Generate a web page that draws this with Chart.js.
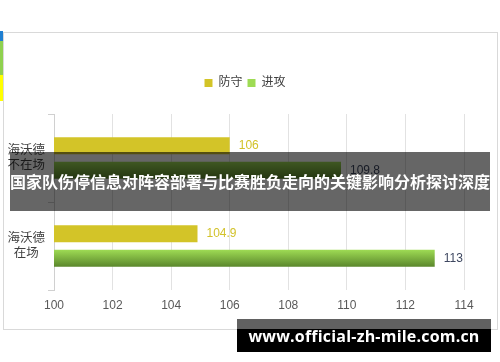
<!DOCTYPE html>
<html lang="zh">
<head>
    <meta charset="UTF-8">
    <title>海沃德在场与不在场 - 防守/进攻</title>
    <script src="https://cdn.jsdelivr.net/npm/chart.js"></script>
    <style>
        body { margin: 0; width: 500px; height: 362px; background: #fff; position: relative; overflow: hidden; }
        #card { position: absolute; left: 3px; top: 32px; width: 493px; height: 296px; border: 1px solid #d9d9d9; background: #fff; }
        #strip { position: absolute; left: 0; top: 31px; width: 3px; height: 70px;
                 background: linear-gradient(#1e7fd2 0 10px, #8fd14f 10px 44px, #ffff00 44px); }
        #chart { position: absolute; left: 0; top: 0; }
        #banner { position: absolute; left: 10px; top: 152px; width: 480px; height: 59px; background: rgba(0, 0, 0, 0.6);
                  color: #fff; font: bold 16px "Noto Sans CJK SC", sans-serif; line-height: 59px; text-align: center; white-space: nowrap; }
        #mark { position: absolute; left: 237px; top: 319px; width: 254px; height: 33px;
                background: linear-gradient(rgba(0, 0, 0, 0.62) 0 10px, #000 10px);
                color: #fff; font: bold 16px "Open Sans", sans-serif; letter-spacing: 0.2px; line-height: 35px; text-align: center; white-space: nowrap; }
    </style>
</head>
<body>
    <div id="strip"></div>
    <div id="card"></div>
    <canvas id="chart" width="500" height="362"></canvas>
    <div id="banner">国家队伤停信息对阵容部署与比赛胜负走向的关键影响分析探讨深度</div>
    <div id="mark">www.official-zh-mile.com.cn</div>
    <script>
        // categories and series
        var teamLabels = [['海沃德', '不在场'], ['海沃德', '在场']];
        var defenceValues = [106, 104.9];
        var attackValues = [109.8, 113];
        var seriesNames = ['防守', '进攻'];
        var labelColours = ['#d2c22a', '#3e4760'];

        var catPct = 0.56;
        var barPct = 0.69;
        var font = '"Liberation Sans", "Noto Sans CJK SC", sans-serif';

        // green bars have a top-to-bottom gradient like the original
        function attackFill(ctx) {
            var chart = ctx.chart;
            var area = chart.chartArea;
            if (ctx.type !== 'data' || !area || !chart.scales.y) return '#79b13d';
            var band = (area.bottom - area.top) / teamLabels.length;
            var slot = band * catPct / 2;
            var mid = chart.scales.y.getPixelForValue(ctx.dataIndex) + slot / 2;
            var half = slot * barPct / 2;
            var g = chart.ctx.createLinearGradient(0, mid - half, 0, mid + half);
            g.addColorStop(0, '#9edb54');
            g.addColorStop(1, '#5a862b');
            return g;
        }

        // value text at the end of each bar
        var valueLabels = {
            id: 'valueLabels',
            afterDatasetsDraw: function(chart) {
                var c = chart.ctx;
                c.save();
                c.font = '12px ' + font;
                c.textBaseline = 'middle';
                chart.data.datasets.forEach(function(ds, i) {
                    c.fillStyle = labelColours[i];
                    chart.getDatasetMeta(i).data.forEach(function(bar, j) {
                        c.fillText(String(ds.data[j]), bar.x + 9, bar.y);
                    });
                });
                c.restore();
            }
        };

        var ctx = document.getElementById('chart').getContext('2d');
        var chart = new Chart(ctx, {
            type: 'bar',
            data: {
                labels: teamLabels,
                datasets: [{
                    label: seriesNames[0],
                    data: defenceValues,
                    backgroundColor: '#d3c428',
                    borderWidth: 0,
                    barPercentage: barPct,
                    categoryPercentage: catPct
                }, {
                    label: seriesNames[1],
                    data: attackValues,
                    backgroundColor: attackFill,
                    borderWidth: 0,
                    barPercentage: barPct,
                    categoryPercentage: catPct
                }]
            },
            options: {
                indexAxis: 'y',
                responsive: false,
                animation: false,
                devicePixelRatio: 1,
                layout: { padding: { top: 72, left: 0, right: 10, bottom: 42 } },
                plugins: {
                    legend: {
                        position: 'top',
                        labels: { boxWidth: 8, boxHeight: 8, padding: 5, color: '#404040', font: { size: 12, family: font } }
                    },
                    tooltip: { enabled: false }
                },
                scales: {
                    x: {
                        min: 100,
                        max: 114,
                        ticks: { stepSize: 2, color: '#595959', padding: 8, font: { size: 12, family: font } },
                        grid: { color: '#e2e2e2', drawTicks: false },
                        border: { display: false },
                        afterFit: function(s) { s.height = 30; }
                    },
                    y: {
                        ticks: { crossAlign: 'center', padding: 3, color: '#404040', font: { size: 12.5, family: font } },
                        grid: { drawOnChartArea: false, drawTicks: true, tickLength: 6, color: '#d0d0d0' },
                        border: { display: true, color: '#d0d0d0' },
                        afterFit: function(s) { s.width = 54; }
                    },
                    // empty spacer axes so the plot sits where the original's did
                    x2: {
                        position: 'top',
                        ticks: { display: false },
                        grid: { display: false },
                        border: { display: false },
                        afterFit: function(s) { s.height = 15; }
                    },
                    y2: {
                        type: 'category',
                        position: 'right',
                        ticks: { display: false },
                        grid: { display: false },
                        border: { display: false },
                        afterFit: function(s) { s.width = 26; }
                    }
                }
            },
            plugins: [valueLabels]
        });
    </script>
</body>
</html>
